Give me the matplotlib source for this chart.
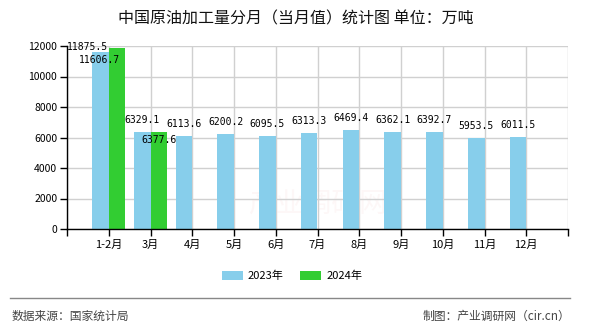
import matplotlib
matplotlib.use("Agg")
import matplotlib.pyplot as plt
from matplotlib.patches import Patch
from matplotlib.lines import Line2D

plt.rcParams["font.family"] = ["Noto Sans CJK SC", "DejaVu Sans"]

months = ["1-2月", "3月", "4月", "5月", "6月", "7月", "8月", "9月", "10月", "11月", "12月"]
values_2023 = [11606.7, 6329.1, 6113.6, 6200.2, 6095.5, 6313.3, 6469.4, 6362.1, 6392.7, 5953.5, 6011.5]
values_2024 = [11875.5, 6377.6]

BLUE = "#87CEEB"
GREEN = "#32CD32"
W = 590
H = 330

fig = plt.figure(figsize=(W / 100, H / 100), dpi=100)
ax = fig.add_axes([67 / W, 1 - 229 / H, (568 - 67) / W, (229 - 46) / H])

pos = list(range(1, len(months) + 1))
bw = 0.4
x23 = [p - bw / 2 for p in pos]
x24 = [p + bw / 2 for p in pos[:len(values_2024)]]
ax.bar(x23, values_2023, width=bw, color=BLUE, zorder=2)
ax.bar(x24, values_2024, width=bw, color=GREEN, zorder=2)

ax.set_xlim(0, len(months) + 1)
ax.set_ylim(0, 12000)
ax.set_yticks(range(0, 12001, 2000))
ax.set_xticks(range(0, len(months) + 2))
ax.set_xticklabels([""] + months + [""], fontsize=8)
ax.tick_params(axis="y", labelsize=7.5, length=5, width=1, pad=2)
ax.tick_params(axis="x", length=5, width=1, pad=3)
ax.grid(True, color="#d0d0d0", linewidth=1, zorder=0)
for side in ("top", "right"):
    ax.spines[side].set_visible(False)
ax.spines["left"].set_linewidth(1)
ax.spines["bottom"].set_linewidth(1)

px = 0.72  # points per pixel at 100 dpi
mono = "DejaVu Sans Mono"
# label offsets in pixels (dx, dy), default sits just above the bar
off23 = {0: (-1, -8), 1: (0, 12)}
off24 = {0: (-29.5, 1), 1: (0, -8)}
for i, (x, v) in enumerate(zip(x23, values_2023)):
    dx, dy = off23.get(i, (0, 12))
    ax.annotate(f"{v:.1f}", (x, v), xytext=(dx * px, dy * px), textcoords="offset points",
                ha="center", va="center", fontsize=7, family=mono, zorder=4)
for i, (x, v) in enumerate(zip(x24, values_2024)):
    dx, dy = off24.get(i, (0, 12))
    ax.annotate(f"{v:.1f}", (x, v), xytext=(dx * px, dy * px), textcoords="offset points",
                ha="center", va="center", fontsize=7, family=mono, zorder=4)

# faint site watermark
ax.text(0.5, 0.14, "产业调研网", transform=ax.transAxes, ha="center", va="center",
        fontsize=20, color="#e8a0a0", alpha=0.08, zorder=1)

fig.text(296 / W, 1 - 19 / H, "中国原油加工量分月（当月值）统计图 单位：万吨",
         ha="center", va="center", fontsize=11.5, color="#111111")

handles = [Patch(facecolor=BLUE, label="2023年"), Patch(facecolor=GREEN, label="2024年")]
fig.legend(handles=handles, loc="center", bbox_to_anchor=(292 / W, 1 - 276 / H), ncol=2,
           frameon=False, fontsize=8, handlelength=1.9, handleheight=0.85,
           handletextpad=0.45, columnspacing=1.45)

fig.add_artist(Line2D([10 / W, 570 / W], [1 - 298 / H, 1 - 298 / H], color="#888888",
                      linewidth=1, transform=fig.transFigure))
fig.text(12 / W, 1 - 316 / H, "数据来源：国家统计局", ha="left", va="center",
         fontsize=8.5, color="#444444")
fig.text(570 / W, 1 - 316 / H, "制图：产业调研网（cir.cn）", ha="right", va="center",
         fontsize=8.5, color="#444444")

fig.savefig("out.png", dpi=100)
